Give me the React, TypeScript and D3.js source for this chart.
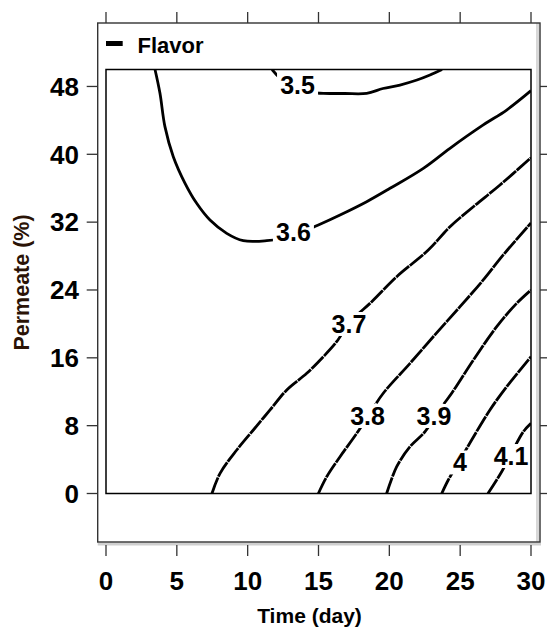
import React from "react";
import * as d3 from "d3";

const W = 547;
const H = 628;

const timeTicks = [0, 5, 10, 15, 20, 25, 30];
const permeateTicks = [0, 8, 16, 24, 32, 40, 48];

// Flavor contour traces as [time (day), permeate (%)]
const flavor35: [number, number][] = [
  [11.72, 50], [12.28, 49.0], [13.34, 47.82], [14.4, 47.29], [15.34, 47.19],
  [16.87, 47.17], [18.4, 47.19], [19.55, 47.76], [20.75, 48.17], [21.95, 48.76],
  [22.87, 49.35], [23.72, 50],
];
const flavor36: [number, number][] = [
  [3.46, 50], [3.81, 47.19], [4.16, 43.26], [4.75, 39.72], [5.58, 36.58],
  [6.4, 34.22], [7.34, 32.25], [8.52, 30.68], [9.69, 29.81], [11.34, 29.81],
  [12.99, 30.25], [14.99, 31.66], [16.52, 32.84], [18.4, 34.41], [20.05, 35.99],
  [22.4, 38.35], [24.28, 40.71], [26.63, 43.46], [28.28, 45.22], [30, 47.5],
];
const flavor37: [number, number][] = [
  [7.48, 0], [8.05, 2.38], [9.23, 5.13], [10.4, 7.49], [11.58, 9.85],
  [12.76, 12.21], [14.17, 14.17], [15.34, 16.13], [16.28, 17.9], [17.22, 20.22],
  [18.76, 22.62], [20.52, 25.57], [22.75, 28.71], [24.28, 31.46], [25.93, 33.82],
  [27.81, 36.38], [30, 39.6],
];
const flavor38: [number, number][] = [
  [14.99, 0], [15.58, 1.98], [16.52, 4.34], [17.7, 7.1], [18.64, 9.49],
  [19.57, 11.82], [21.46, 15.35], [23.1, 18.49], [24.99, 22.03], [26.63, 25.18],
  [28.04, 28.13], [30, 31.9],
];
const flavor39: [number, number][] = [
  [19.81, 0], [20.52, 3.16], [21.46, 5.52], [22.52, 7.29], [23.43, 9.61],
  [24.4, 11.82], [25.93, 15.74], [27.58, 19.67], [28.99, 22.43], [30, 24.0],
];
const flavor40: [number, number][] = [
  [23.7, 0], [24.16, 1.59], [25.0, 3.95], [25.81, 6.31], [27.1, 9.85],
  [28.28, 12.59], [30, 16.13],
];
const flavor41: [number, number][] = [
  [26.96, 0], [27.93, 2.57], [28.66, 4.89], [29.46, 7.29], [30, 8.28],
];

const levels = [3.5, 3.6, 3.7, 3.8, 3.9, 4.0, 4.1];
const traces = [flavor35, flavor36, flavor37, flavor38, flavor39, flavor40, flavor41];
// where each level's label sits, [time, permeate]
const labelAt: [number, number][] = [
  [13.52, 48.17], [13.23, 30.78], [17.15, 19.99], [18.46, 9.14],
  [23.15, 9.14], [24.99, 3.66], [28.59, 4.42],
];

const FONT = "'Liberation Sans', Arial, Helvetica, sans-serif";

export default function App() {
  const x = d3.scaleLinear().domain([0, 30]).range([106, 531]);
  const y = d3.scaleLinear().domain([0, 50]).range([493.5, 69.5]);

  const line = d3
    .line<[number, number]>()
    .x((d) => x(d[0]))
    .y((d) => y(d[1]))
    .curve(d3.curveCatmullRom.alpha(0.5));

  const fmt = (v: number) => String(v);
  const labelWidth = (s: string) =>
    s.split("").reduce((w, c) => w + (c === "." ? 7 : 14), 0);

  const frame = { x0: 97.7, x1: 540, y0: 23, y1: 542 };

  return (
    <svg
      width={W}
      height={H}
      viewBox={`0 0 ${W} ${H}`}
      style={{ position: "absolute", left: 0, top: 0, background: "#fff" }}
      fontFamily={FONT}
    >
      <defs>
        <clipPath id="panel">
          <rect x={x(0)} y={y(50)} width={x(30) - x(0)} height={y(0) - y(50)} />
        </clipPath>
      </defs>
      <rect x={0} y={0} width={W} height={H} fill="#fff" />

      {/* outer panel frame with soft edge */}
      <line x1={frame.x0} x2={frame.x1 + 1} y1={frame.y1 + 2} y2={frame.y1 + 2} stroke="#cfcfcf" strokeWidth={3} />
      <line x1={frame.x1 - 2.5} x2={frame.x1 - 2.5} y1={frame.y0} y2={frame.y1} stroke="#d8d8d8" strokeWidth={3} />
      <rect
        x={frame.x0}
        y={frame.y0}
        width={frame.x1 - frame.x0}
        height={frame.y1 - frame.y0}
        fill="none"
        stroke="#333"
        strokeWidth={1.4}
      />

      {/* ticks on all four sides */}
      {timeTicks.map((t) => (
        <g key={`xt${t}`}>
          <line x1={x(t)} x2={x(t)} y1={545} y2={556} stroke="#333" strokeWidth={1.3} />
          <line x1={x(t)} x2={x(t)} y1={12} y2={frame.y0} stroke="#333" strokeWidth={1.3} />
          <text x={x(t)} y={590} textAnchor="middle" fontSize={26} fontWeight="bold" fill="#000">
            {t}
          </text>
        </g>
      ))}
      {permeateTicks.map((p) => (
        <g key={`yt${p}`}>
          <line x1={86.7} x2={frame.x0} y1={y(p)} y2={y(p)} stroke="#333" strokeWidth={1.3} />
          <line x1={frame.x1} x2={W} y1={y(p)} y2={y(p)} stroke="#333" strokeWidth={1.3} />
          <text x={79} y={y(p) + 9.3} textAnchor="end" fontSize={26} fontWeight="bold" fill="#000">
            {p}
          </text>
        </g>
      ))}

      {/* axis titles */}
      <text x={309.5} y={623} textAnchor="middle" fontSize={21} fontWeight="bold" fill="#000">
        Time (day)
      </text>
      <text
        transform={`translate(28.5,282.5) rotate(-90)`}
        textAnchor="middle"
        fontSize={21.5}
        fontWeight="bold"
        fill="#2a1306"
      >
        Permeate (%)
      </text>

      {/* key */}
      <line x1={106} x2={122.7} y1={43.5} y2={43.5} stroke="#000" strokeWidth={5} />
      <text x={137.5} y={53} fontSize={22} fontWeight="bold" fill="#000">
        Flavor
      </text>

      {/* contour lines */}
      <g clipPath="url(#panel)">
        {traces.map((tr, i) => (
          <path
            key={`c${i}`}
            d={line(tr) ?? ""}
            fill="none"
            stroke="#000"
            strokeWidth={2.8}
            strokeLinecap="butt"
            strokeLinejoin="round"
            strokeDasharray={levels[i] >= 3.7 ? "17 0.9" : undefined}
          />
        ))}
      </g>

      {/* contour labels */}
      {levels.map((v, i) => {
        const s = fmt(v);
        const cx = x(labelAt[i][0]);
        const cy = y(labelAt[i][1]);
        const w = labelWidth(s);
        return (
          <g key={`l${i}`}>
            <rect x={cx - w / 2 - 3} y={cy - 12} width={w + 6} height={24} fill="#fff" />
            <text x={cx} y={cy + 9} textAnchor="middle" fontSize={25} fontWeight="bold" fill="#000">
              {s}
            </text>
          </g>
        );
      })}

      {/* inner plotting region */}
      <rect
        x={x(0)}
        y={y(50)}
        width={x(30) - x(0)}
        height={y(0) - y(50)}
        fill="none"
        stroke="#000"
        strokeWidth={1.5}
      />
    </svg>
  );
}
